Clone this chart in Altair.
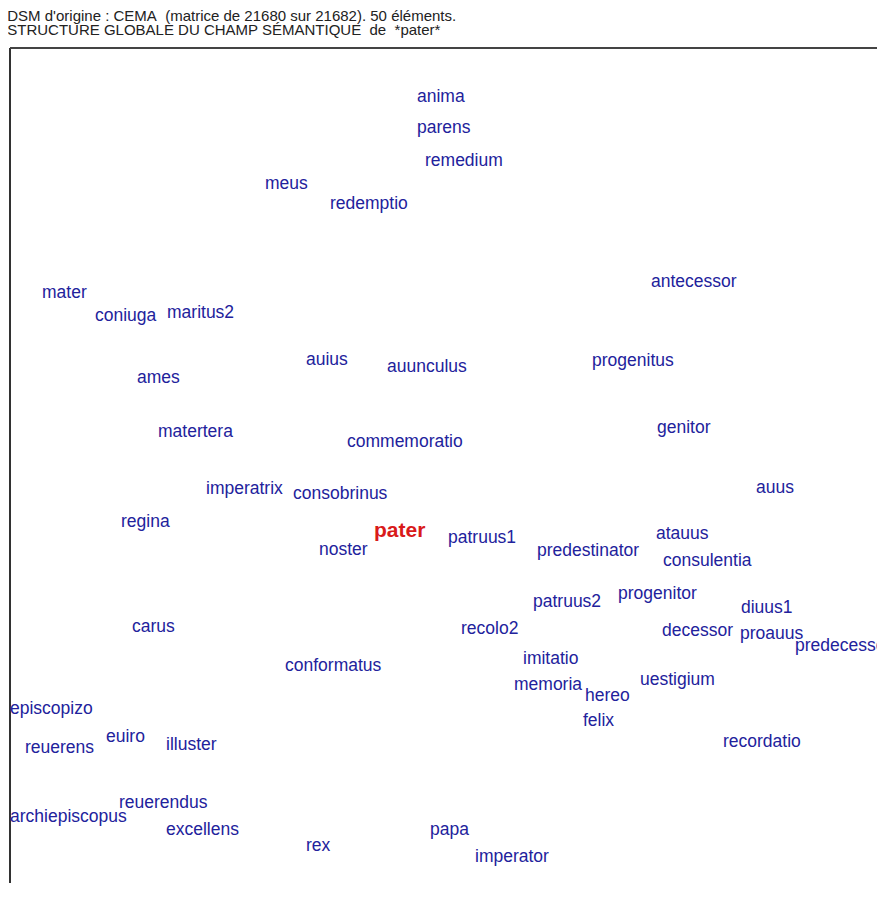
import altair as alt
import pandas as pd

# Word labels of the semantic map and their positions (page pixels)
words = [
    "anima", "parens", "remedium", "meus", "redemptio", "antecessor", "mater", "coniuga",
    "maritus2", "auius", "auunculus", "progenitus", "ames", "genitor", "matertera",
    "commemoratio", "imperatrix", "consobrinus", "auus", "regina", "pater", "patruus1",
    "noster", "atauus", "predestinator", "consulentia", "progenitor", "patruus2", "diuus1",
    "carus", "recolo2", "decessor", "proauus", "predecessor", "conformatus", "imitatio",
    "uestigium", "memoria", "hereo", "episcopizo", "felix", "euiro", "reuerens", "illuster",
    "recordatio", "reuerendus", "archiepiscopus", "excellens", "papa", "rex", "imperator",
]
xs = [
    417, 417, 425, 265, 330, 651, 42, 95,
    167, 306, 387, 592, 137, 657, 158,
    347, 206, 293, 756, 121, 374, 448,
    319, 656, 537, 663, 618, 533, 741,
    132, 461, 662, 740, 795, 285, 523,
    640, 514, 585, 10, 583, 106, 25, 166,
    723, 119, 10, 166, 430, 306, 475,
]
ys = [
    97, 128, 161, 184, 204, 282, 293, 316,
    313, 360, 367, 361, 378, 428, 432,
    442, 489, 494, 488, 522, 531, 538,
    550, 534, 551, 561, 594, 602, 608,
    627, 629, 631, 634, 646, 666, 659,
    680, 685, 696, 709, 721, 737, 748, 745,
    742, 803, 817, 830, 830, 846, 857,
]
focus = "pater"

title_lines = [
    "DSM d'origine : CEMA\u00a0 (matrice de 21680 sur 21682). 50 éléments.",
    "STRUCTURE GLOBALE DU CHAMP SÉMANTIQUE\u00a0 de\u00a0 *pater*",
]

df = pd.DataFrame({"word": words, "x": xs, "y": ys})
df["focus"] = df["word"] == focus

W = 867
H = 835
X0, Y0 = 10, 48
FONT = "Liberation Sans, Arial, Helvetica, sans-serif"

xscale = alt.Scale(domain=[X0, X0 + W], nice=False, zero=False)
yscale = alt.Scale(domain=[Y0, Y0 + H], nice=False, zero=False, reverse=True)

base = alt.Chart(df)

others = base.transform_filter("!datum.focus").mark_text(
    align="left", baseline="middle", font=FONT, fontSize=17.5, color="#22229c"
).encode(
    x=alt.X("x:Q", scale=xscale, axis=None),
    y=alt.Y("y:Q", scale=yscale, axis=None),
    text="word:N",
)

center = base.transform_filter("datum.focus").mark_text(
    align="left", baseline="middle", font=FONT, fontSize=21, fontWeight="bold",
    color="#d91a1a"
).encode(
    x=alt.X("x:Q", scale=xscale, axis=None),
    y=alt.Y("y:Q", scale=yscale, axis=None),
    text="word:N",
)

left_border = alt.Chart(df).mark_rule(color="#333333", strokeWidth=1.5).encode(
    x=alt.value(0), y=alt.value(0), y2=alt.value(H)
)
top_border = alt.Chart(df).mark_rule(color="#444444", strokeWidth=1.5).encode(
    x=alt.value(0), x2=alt.value(W), y=alt.value(0)
)

chart = alt.layer(left_border, top_border, others, center).properties(
    width=W,
    height=H,
    autosize=alt.AutoSizeParams(type="none"),
    padding={"left": 2, "top": 40, "right": 0, "bottom": 0},
    title=alt.TitleParams(
        text=title_lines,
        anchor="start",
        font=FONT,
        fontSize=15,
        fontWeight="normal",
        color="#222222",
        lineHeight=14,
        offset=9,
        dx=-2,
    ),
).configure_view(stroke=None)

chart.save("out.html", embed_options={"renderer": "svg", "actions": False})
